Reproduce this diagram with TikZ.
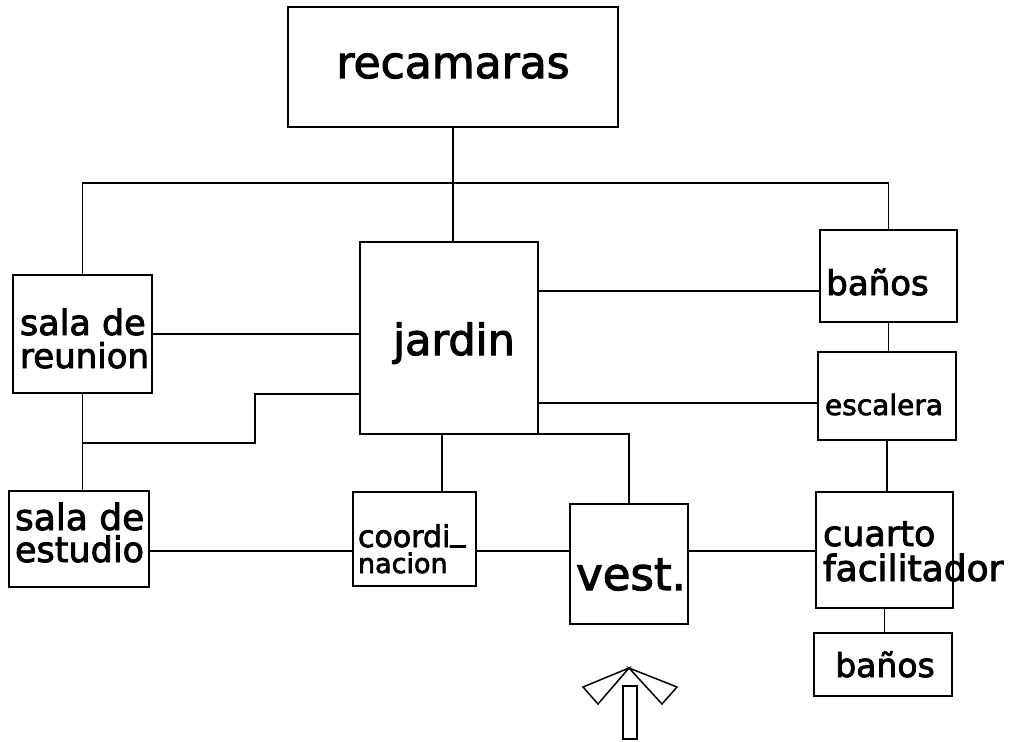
\documentclass[tikz,border=0pt]{standalone}
\usepackage{fontspec}
\setmainfont{DejaVu Sans}[BoldFont={DejaVu Sans}, BoldFeatures={FakeBold=2.5}]
\newcommand{\fsz}[1]{\fontsize{#1}{#1}\selectfont\bfseries}
\tikzset{
  box/.style={draw, line width=1.6pt, rectangle, inner sep=0pt, outer sep=0pt},
  lbl/.style={inner sep=0pt, outer sep=0pt},
  conn/.style={line width=1.5pt},
}
\begin{document}
\begin{tikzpicture}[x=1pt,y=-1pt]
\useasboundingbox (0,0) rectangle (1019,741);
% boxes
\node[box, minimum width=330pt, minimum height=120pt] (rec) at (453,67) {};
\node[box, minimum width=178pt, minimum height=192pt] (jar) at (449,338) {};
\node[box, minimum width=139pt, minimum height=118pt] (reu) at (82.5,334) {};
\node[box, minimum width=140pt, minimum height=96pt] (est) at (79,539) {};
\node[box, minimum width=123pt, minimum height=94pt] (coo) at (414.5,539) {};
\node[box, minimum width=118pt, minimum height=120pt] (ves) at (629,564) {};
\node[box, minimum width=137pt, minimum height=92pt] (ba1) at (888.5,276) {};
\node[box, minimum width=138pt, minimum height=88pt] (esc) at (887,396) {};
\node[box, minimum width=137pt, minimum height=116pt] (cua) at (884.5,550) {};
\node[box, minimum width=138pt, minimum height=63pt] (ba2) at (883,664.5) {};
% labels
\node[lbl, anchor=base] (trec) at (453,78) {\fsz{44}recamaras};
\node[lbl, anchor=base] (tjar) at (454,355) {\fsz{43}jardin};
\node[lbl, anchor=base west] (treu1) at (20,335) {\fsz{35}sala de};
\node[lbl, anchor=base west] (treu2) at (20,368) {\fsz{34}reunion};
\node[lbl, anchor=base west] (test1) at (15,530) {\fsz{36}sala de};
\node[lbl, anchor=base west] (test2) at (15,562) {\fsz{35}estudio};
\node[lbl, anchor=base west] (tcoo1) at (358,547) {\fsz{30}coordi\raisebox{0.22em}{\_}};
\node[lbl, anchor=base west] (tcoo2) at (358,573) {\fsz{27}nacion};
\node[lbl, anchor=base] (tves) at (631,590) {\fsz{45}vest.};
\node[lbl, anchor=base] (tba1) at (877.5,295) {\fsz{34}baños};
\node[lbl, anchor=base] (tesc) at (884,415) {\fsz{28}escalera};
\node[lbl, anchor=base west] (tcua1) at (823,546) {\fsz{35}cuarto};
\node[lbl, anchor=base west] (tcua2) at (823,581) {\fsz{36}facilitador};
\node[lbl, anchor=base] (tba2) at (885,677) {\fsz{33}baños};
% helper coordinates
\coordinate (bus) at (452,183);
\coordinate (s1) at (255,394);
\coordinate (s2) at (255,443);
\coordinate (row) at (0,551);
\coordinate (jc) at (442,0);
\coordinate (r1) at (0,291);
\coordinate (r2) at (0,403);
% connectors
\draw[conn] (rec.south) -- (rec.south |- jar.north);
\draw[conn] (reu.north) |- (bus) -| (ba1.north);
\draw[conn] (reu.east) -- (reu.east -| jar.west);
\draw[conn] (s1 -| jar.west) -- (s1) -- (s2) -- (s2 -| reu.south);
\draw[conn] (reu.south) -- (reu.south |- est.north);
\draw[conn] (est.east |- row) -- (coo.west |- row);
\draw[conn] (coo.east |- row) -- (ves.west |- row);
\draw[conn] (ves.east |- row) -- (cua.west |- row);
\draw[conn] (jc |- jar.south) -- (jc |- coo.north);
\draw[conn] (jar.south east) -| (ves.north);
\draw[conn] (jar.east |- r1) -- (ba1.west |- r1);
\draw[conn] (jar.east |- r2) -- (esc.west |- r2);
\draw[conn] (ba1.south) -- (ba1.south |- esc.north);
\draw[conn] (esc.south) -- (esc.south |- cua.north);
\draw[conn] (cua.south) -- (cua.south |- ba2.north);
% entrance arrow
\draw[conn, line join=miter] (629,668) -- (583,687) -- (598,704) -- cycle;
\draw[conn, line join=miter] (629,668) -- (677,687) -- (662,704) -- cycle;
\draw[conn] (623,686) rectangle (637,739);
\end{tikzpicture}
\end{document}
